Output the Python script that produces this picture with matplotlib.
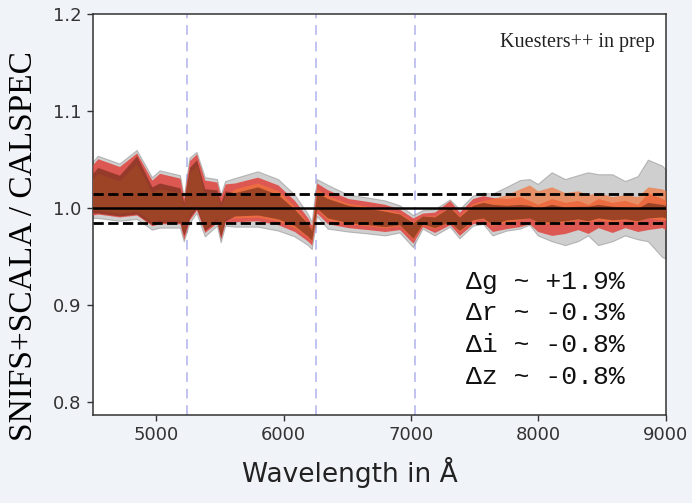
import numpy as np
import matplotlib
matplotlib.use("Agg")
import matplotlib.pyplot as plt

# wavelength grid (Angstrom) and band edges
wave = [4500, 4540, 4710, 4845, 4965, 5025, 5185, 5215, 5260, 5315, 5380, 5475,
        5505, 5540, 5615, 5795, 5955, 6085, 6190, 6220, 6260, 6345, 6505, 6660,
        6795, 6910, 7015, 7090, 7185, 7305, 7380, 7485, 7565, 7640, 7750, 7855,
        7930, 7995, 8105, 8210, 8310, 8390, 8470, 8580, 8680, 8780, 8860, 8970, 9000]

gray_hi = [1.048, 1.054, 1.046, 1.060, 1.032, 1.039, 1.034, 1.012, 1.052, 1.058, 1.032, 1.030,
           1.014, 1.028, 1.031, 1.038, 1.030, 1.014, 0.994, 0.986, 1.030, 1.024, 1.014, 1.011,
           1.008, 1.003, 0.993, 0.998, 0.999, 1.009, 0.999, 1.013, 1.016, 1.015, 1.022, 1.029,
           1.030, 1.025, 1.037, 1.030, 1.034, 1.037, 1.035, 1.035, 1.028, 1.033, 1.050, 1.044, 1.040]
gray_lo = [0.990, 0.990, 0.987, 0.989, 0.978, 0.980, 0.980, 0.966, 0.985, 0.995, 0.971, 0.982,
           0.965, 0.982, 0.981, 0.981, 0.977, 0.971, 0.962, 0.958, 0.992, 0.979, 0.976, 0.974,
           0.972, 0.975, 0.960, 0.979, 0.972, 0.981, 0.969, 0.982, 0.984, 0.972, 0.977, 0.979,
           0.983, 0.972, 0.966, 0.962, 0.966, 0.972, 0.962, 0.966, 0.972, 0.968, 0.966, 0.950, 0.948]

red_hi = [1.045, 1.051, 1.043, 1.057, 1.029, 1.036, 1.031, 1.010, 1.049, 1.056, 1.029, 1.027,
          1.012, 1.025, 1.026, 1.032, 1.024, 1.008, 0.990, 0.982, 1.026, 1.019, 1.010, 1.007,
          1.004, 0.999, 0.990, 0.995, 0.996, 1.008, 0.996, 1.010, 1.013, 1.011, 1.010, 1.012,
          1.008, 1.004, 1.010, 1.006, 1.008, 1.004, 1.010, 1.006, 1.008, 1.004, 1.016, 1.010, 1.008]
red_lo = [0.993, 0.994, 0.991, 0.993, 0.982, 0.984, 0.984, 0.968, 0.988, 0.998, 0.975, 0.985,
          0.968, 0.985, 0.986, 0.987, 0.983, 0.976, 0.966, 0.962, 0.995, 0.984, 0.980, 0.978,
          0.976, 0.978, 0.964, 0.981, 0.975, 0.983, 0.972, 0.984, 0.985, 0.976, 0.979, 0.981,
          0.984, 0.976, 0.972, 0.974, 0.978, 0.974, 0.980, 0.975, 0.980, 0.976, 0.978, 0.980, 0.978]

brown_hi = [1.036, 1.042, 1.034, 1.054, 1.022, 1.026, 1.021, 1.006, 1.042, 1.050, 1.020, 1.019,
            1.006, 1.018, 1.016, 1.022, 1.014, 0.999, 0.984, 0.977, 1.016, 1.010, 1.003, 1.000,
            0.997, 0.994, 0.985, 0.992, 0.991, 1.001, 0.991, 1.003, 1.006, 1.004, 1.003, 1.004,
            1.003, 1.000, 1.004, 1.001, 1.002, 1.002, 1.004, 1.002, 1.001, 1.000, 1.006, 1.004, 1.003]
brown_lo = [0.995, 0.995, 0.992, 0.994, 0.983, 0.985, 0.985, 0.972, 0.990, 1.000, 0.977, 0.987,
            0.970, 0.987, 0.992, 0.993, 0.989, 0.982, 0.971, 0.967, 1.000, 0.990, 0.985, 0.983,
            0.981, 0.983, 0.969, 0.984, 0.980, 0.986, 0.977, 0.988, 0.990, 0.983, 0.988, 0.989,
            0.990, 0.986, 0.986, 0.987, 0.989, 0.987, 0.990, 0.988, 0.989, 0.987, 0.990, 0.991, 0.990]

orange_hi = [1.030, 1.036, 1.028, 1.046, 1.016, 1.020, 1.016, 1.002, 1.036, 1.044, 1.014, 1.014,
             1.002, 1.013, 1.020, 1.026, 1.018, 1.002, 0.985, 0.978, 1.020, 1.013, 1.005, 1.002,
             0.999, 0.995, 0.986, 0.992, 0.992, 1.002, 0.992, 1.005, 1.008, 1.010, 1.014, 1.020,
             1.024, 1.018, 1.022, 1.016, 1.018, 1.014, 1.016, 1.012, 1.014, 1.012, 1.022, 1.020, 1.018]
orange_lo = [0.998, 0.998, 0.995, 0.997, 0.986, 0.988, 0.988, 0.976, 0.994, 1.003, 0.980, 0.990,
             0.974, 0.990, 0.990, 0.991, 0.987, 0.980, 0.970, 0.966, 0.999, 0.988, 0.984, 0.982,
             0.980, 0.982, 0.968, 0.983, 0.979, 0.986, 0.976, 0.987, 0.989, 0.982, 0.986, 0.988,
             0.990, 0.985, 0.984, 0.986, 0.988, 0.986, 0.988, 0.986, 0.988, 0.986, 0.990, 0.988, 0.988]

band_edges = [5240, 6250, 7030]
ref_level = 1.0
tol = 0.015
deltas = ["\u0394g ~ +1.9%", "\u0394r ~ -0.3%", "\u0394i ~ -0.8%", "\u0394z ~ -0.8%"]

fig = plt.figure(figsize=(6.92, 5.03), dpi=100, facecolor='#f0f3f8')
ax = fig.add_axes([0.134, 0.175, 0.828, 0.797])
ax.set_facecolor('white')

ax.fill_between(wave, gray_lo, gray_hi, color='#a8a8a8', alpha=0.55, edgecolor='#8c8c8c', lw=0.8, zorder=2)
ax.fill_between(wave, red_lo, red_hi, color='#e0433c', alpha=0.85, lw=0, zorder=3)
ax.fill_between(wave, orange_lo, orange_hi, color='#f2753a', alpha=0.7, lw=0, zorder=4)
ax.fill_between(wave, brown_lo, brown_hi, color='#5c240e', alpha=0.55, lw=0, zorder=5)

for w in band_edges:
    ax.axvline(w, color='#c2c2f2', ls=(0, (5, 3.5)), lw=1.4, zorder=1)

ax.axhline(ref_level, color='black', lw=1.8, zorder=6)
ax.axhline(ref_level + tol, color='black', ls='--', lw=2, zorder=6)
ax.axhline(ref_level - tol, color='black', ls='--', lw=2, zorder=6)

ax.set_xlim(4500, 9000)
ax.set_ylim(0.787, 1.2)
ax.set_xticks([5000, 6000, 7000, 8000, 9000])
ax.set_yticks([0.8, 0.9, 1.0, 1.1, 1.2])
ax.tick_params(labelsize=13, colors='#333333', length=4.5, width=1)
for s in ax.spines.values():
    s.set_color('#333333')
    s.set_linewidth(1.1)

ax.text(0.981, 0.93, "Kuesters++ in prep", transform=ax.transAxes, ha='right', va='center',
        family='Liberation Serif', fontsize=14.5, color='#222222')

for i, t in enumerate(deltas):
    fig.text(466 / 692, 1 - (282 + 31.5 * i) / 503, t, ha='left', va='center',
             family='Liberation Mono', fontsize=19, color='#111111')

fig.text(24 / 692, 1 - 246 / 503, "SNIFS+SCALA / CALSPEC", rotation=90, ha='center', va='center',
         family='Liberation Serif', fontsize=24, color='black')
fig.text(350 / 692, 1 - 472 / 503, "Wavelength in \u00c5", ha='center', va='center',
         fontsize=19, color='#222222')

fig.savefig('out.png', dpi=100, facecolor=fig.get_facecolor())
